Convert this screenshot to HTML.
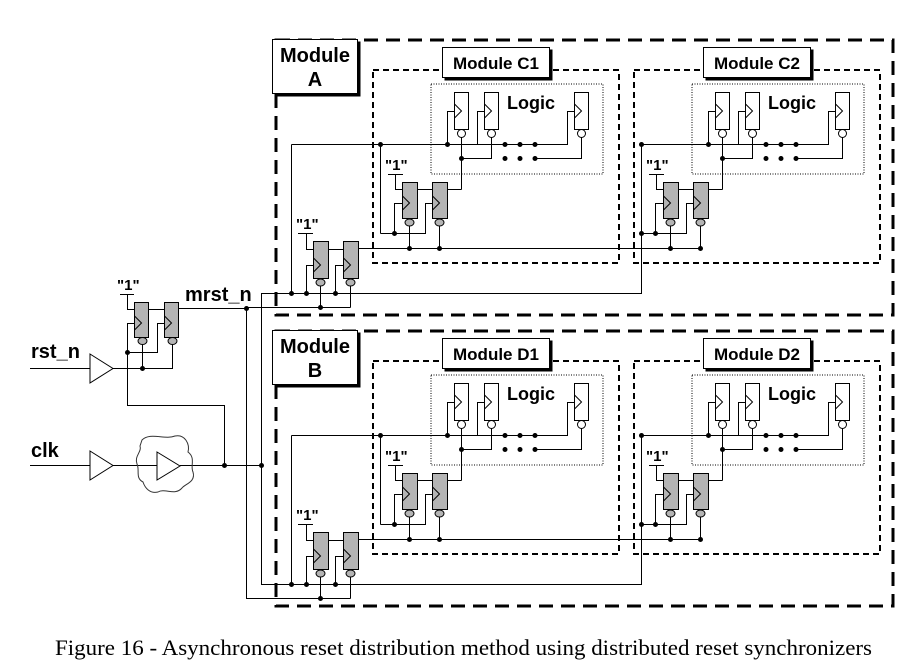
<!DOCTYPE html>
<html><head><meta charset="utf-8"><style>
html,body{margin:0;padding:0;background:#fff;}
svg{display:block;}
.s{font-family:"Liberation Sans",sans-serif;font-weight:bold;}
</style></head><body>
<svg width="922" height="666" viewBox="0 0 922 666" xmlns="http://www.w3.org/2000/svg">
<defs>
<g id="cmod">
  <rect x="373" y="70" width="246" height="193" fill="none" stroke="#000" stroke-width="2" stroke-dasharray="6,4"/>
  <rect x="431" y="84" width="172" height="90" fill="none" stroke="#000" stroke-width="1" stroke-dasharray="1,1.5"/>
  <text x="507" y="109" class="s" font-size="18">Logic</text>
  <g fill="#fff" stroke="#000" stroke-width="1">
    <rect x="454.5" y="92.5" width="14" height="37"/>
    <rect x="484.5" y="92.5" width="14" height="37"/>
    <rect x="574.5" y="92.5" width="14" height="37"/>
    <circle cx="461.5" cy="133.5" r="4"/>
    <circle cx="491.5" cy="133.5" r="4"/>
    <circle cx="581.5" cy="133.5" r="4"/>
  </g>
  <g fill="none" stroke="#000" stroke-width="1">
    <path d="M454.5,104 L461.5,111 L454.5,118 M484.5,104 L491.5,111 L484.5,118 M574.5,104 L581.5,111 L574.5,118"/>
    <path d="M380.5,144.5 H535 M380.5,144.5 V233.5 M447.5,144.5 V111.5 H454 M477.5,144.5 V111.5 H484 M535,144.5 H567.5 V111.5 H574"/>
    <path d="M461.5,137.5 V189.5 M491.5,137.5 V158.5 H461.5 M535,158.5 H581.5 V137.5"/>
    <path d="M388,174.5 H403 M395.5,174.5 V189.5 H402 M417,189.5 H432 M447,189.5 H461.5"/>
    <path d="M380.5,233.5 H425.5 V203.5 H432 M394.5,233.5 V203.5 H402"/>
    <path d="M409.5,226 V248.5 M439.5,226 V248.5"/>
  </g>
  <g fill="#b4b4b4" stroke="#000" stroke-width="1">
    <rect x="402.5" y="182.5" width="15" height="36"/>
    <rect x="432.5" y="182.5" width="15" height="36"/>
    <ellipse cx="409.5" cy="222.5" rx="4.5" ry="3.5"/>
    <ellipse cx="439.5" cy="222.5" rx="4.5" ry="3.5"/>
  </g>
  <path d="M402.5,196 L409.5,203 L402.5,210 M432.5,196 L439.5,203 L432.5,210" fill="none" stroke="#000"/>
  <text x="385" y="170" class="s" font-size="15">"1"</text>
  <g fill="#000">
    <circle cx="380.5" cy="144.5" r="2.5"/><circle cx="447.5" cy="144.5" r="2.5"/>
    <circle cx="461.5" cy="158.5" r="2.5"/>
    <circle cx="505" cy="144.5" r="2.5"/><circle cx="520" cy="144.5" r="2.5"/><circle cx="535" cy="144.5" r="2.5"/>
    <circle cx="505" cy="158.5" r="2.5"/><circle cx="520" cy="158.5" r="2.5"/><circle cx="535" cy="158.5" r="2.5"/>
    <circle cx="394.5" cy="233.5" r="2.5"/>
    <circle cx="409.5" cy="248.5" r="2.5"/><circle cx="439.5" cy="248.5" r="2.5"/>
  </g>
</g>
<g id="sync">
  <g fill="none" stroke="#000" stroke-width="1">
    <path d="M298,233.5 H313 M306.5,233.5 V249.5 H313 M328,249.5 H343 M358,248.5 H701.5"/>
    <path d="M313,265.5 H306.5 V293.5 M343,265.5 H335.5 V293.5"/>
    <path d="M320.5,286 V307.5 M350.5,286 V307.5"/>
    <path d="M261,293.5 H641.5 V233.5 M291.5,144.5 V293.5 M291.5,144.5 H380.5"/>
    <path d="M246,307.5 H350.5"/>
  </g>
  <g fill="#b4b4b4" stroke="#000">
    <rect x="313.5" y="241.5" width="15" height="37"/>
    <rect x="343.5" y="241.5" width="15" height="37"/>
    <ellipse cx="320.5" cy="282.5" rx="4.5" ry="3.5"/>
    <ellipse cx="350.5" cy="282.5" rx="4.5" ry="3.5"/>
  </g>
  <path d="M313.5,258 L320.5,265 L313.5,272 M343.5,258 L350.5,265 L343.5,272" fill="none" stroke="#000"/>
  <text x="296" y="229" class="s" font-size="15">"1"</text>
  <g fill="#000">
    <circle cx="291.5" cy="293.5" r="2.5"/><circle cx="306.5" cy="293.5" r="2.5"/><circle cx="335.5" cy="293.5" r="2.5"/>
    <circle cx="320.5" cy="307.5" r="2.5"/><circle cx="641.5" cy="233.5" r="2.5"/>
  </g>
  <use href="#cmod"/>
  <use href="#cmod" transform="translate(261,0)"/>
</g>
</defs>

<rect x="276" y="40" width="617" height="275" fill="none" stroke="#000" stroke-width="3" stroke-dasharray="14,8"/>
<use href="#sync"/>
<rect x="276" y="331" width="617" height="275" fill="none" stroke="#000" stroke-width="3" stroke-dasharray="14,8"/>
<use href="#sync" transform="translate(0,291)"/>

<g stroke="#000" stroke-width="1">
  <rect x="275" y="42" width="85" height="54" fill="#000"/>
  <rect x="272.5" y="39.5" width="85" height="54" fill="#fff"/>
  <rect x="275" y="333" width="85" height="54" fill="#000"/>
  <rect x="272.5" y="330.5" width="85" height="54" fill="#fff"/>
  <rect x="445" y="50" width="107" height="30" fill="#000"/>
  <rect x="442.5" y="47.5" width="107" height="30" fill="#fff"/>
  <rect x="706" y="50" width="107" height="30" fill="#000"/>
  <rect x="703.5" y="47.5" width="107" height="30" fill="#fff"/>
  <rect x="445" y="341" width="107" height="30" fill="#000"/>
  <rect x="442.5" y="338.5" width="107" height="30" fill="#fff"/>
  <rect x="706" y="341" width="107" height="30" fill="#000"/>
  <rect x="703.5" y="338.5" width="107" height="30" fill="#fff"/>
</g>
<g class="s" font-size="20" text-anchor="middle">
  <text x="315" y="62">Module</text><text x="315" y="86">A</text>
  <text x="315" y="353">Module</text><text x="315" y="377">B</text>
</g>
<g class="s" font-size="17" text-anchor="middle">
  <text x="496" y="69">Module C1</text><text x="757" y="69">Module C2</text>
  <text x="496" y="360">Module D1</text><text x="757" y="360">Module D2</text>
</g>

<g fill="none" stroke="#000" stroke-width="1">
  <path d="M120,294.5 H134 M127.5,294.5 V309.5 H134 M148,309.5 H164 M178,308.5 H246"/>
  <path d="M246.5,308.5 V598.5 H320 M261.5,293.5 V584.5"/>
  <path d="M30,368.5 H90 M113,368.5 H172.5 V342 M142.5,368.5 V342"/>
  <path d="M134,323.5 H127.5 V405.5 H224.5 V465.5 M127.5,352.5 H157.5 V323.5 H164"/>
  <path d="M30,465.5 H90 M113,465.5 H157 M180,465.5 H261"/>
  <path d="M90,354 L113,368.5 L90,383 Z M90,451 L113,465.5 L90,480 Z M157,452 L180,466 L157,480 Z"/>
  <path d="M142,440 C150,432 165,440 175,436 C185,434 190,444 188,452 C196,458 190,466 193,472 C196,482 185,484 182,488 C175,496 165,488 158,492 C150,494 145,488 143,482 C135,478 140,470 137,464 C134,456 142,452 140,446 Z" stroke="#333"/>
</g>
<g fill="#b4b4b4" stroke="#000">
  <rect x="134.5" y="302.5" width="14" height="35"/>
  <rect x="164.5" y="302.5" width="14" height="35"/>
  <ellipse cx="142.5" cy="341" rx="4.5" ry="3.5"/>
  <ellipse cx="172.5" cy="341" rx="4.5" ry="3.5"/>
</g>
<path d="M134.5,316 L141.5,323 L134.5,330 M164.5,316 L171.5,323 L164.5,330" fill="none" stroke="#000"/>
<g fill="#000">
  <circle cx="246.5" cy="308.5" r="2.5"/><circle cx="127.5" cy="352.5" r="2.5"/>
  <circle cx="142.5" cy="368.5" r="2.5"/><circle cx="224.5" cy="465.5" r="2.5"/>
  <circle cx="261.5" cy="465.5" r="2.5"/>
</g>
<text x="117" y="290" class="s" font-size="15">"1"</text>
<g class="s" font-size="20">
  <text x="185" y="301">mrst_n</text>
  <text x="31" y="358">rst_n</text>
  <text x="31" y="457">clk</text>
</g>

<text x="55" y="655" textLength="817" lengthAdjust="spacingAndGlyphs" font-family="Liberation Serif,serif" font-size="22.5">Figure 16 - Asynchronous reset distribution method using distributed reset synchronizers</text>
</svg>
</body></html>
